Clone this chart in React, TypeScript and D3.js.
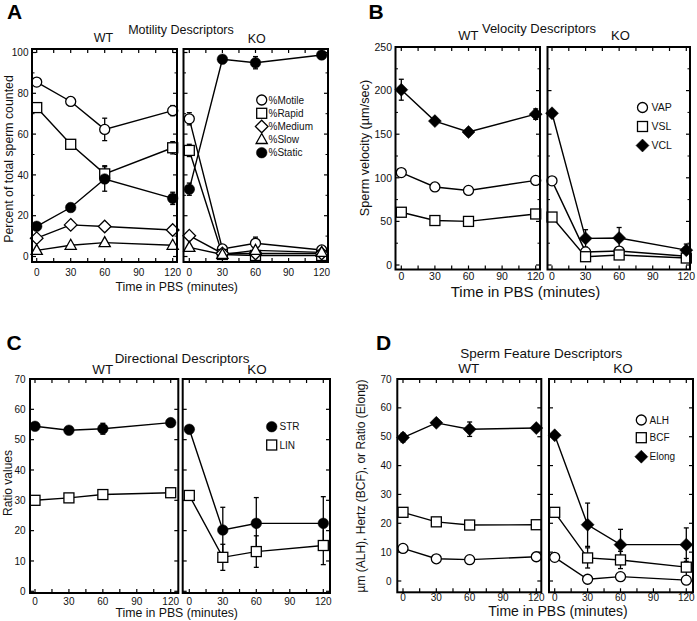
import React from "react";
import * as d3 from "d3";

const TIMES = [0, 30, 60, 120];
const X_TICK_LABELS = [0, 30, 60, 90, 120];
const X_TICK_MARKS = [0, 15, 30, 45, 60, 75, 90, 105, 120];

// Panel A: Motility Descriptors (percent)
const A_WT_MOTILE = [85.5, 76, 62.3, 71.5];
const A_WT_MOTILE_ERR = [1, 2, 5.5, 2.5];
const A_WT_RAPID = [73, 55, 40.5, 53.3];
const A_WT_RAPID_ERR = [2, 2, 4, 3];
const A_WT_MEDIUM = [9, 15.5, 14.7, 13];
const A_WT_MEDIUM_ERR = [1, 0.8, 0.8, 0.8];
const A_WT_SLOW = [3, 5.5, 6.8, 5.5];
const A_WT_SLOW_ERR = [0.5, 0.5, 0.5, 0.5];
const A_WT_STATIC = [14.8, 24, 38, 28.5];
const A_WT_STATIC_ERR = [1, 2, 6, 3];
const A_KO_MOTILE = [67.5, 3.7, 6.5, 3.2];
const A_KO_MOTILE_ERR = [3, 1, 3, 1];
const A_KO_RAPID = [52, 1, 0.5, 0.5];
const A_KO_RAPID_ERR = [3, 0.5, 0.5, 0.5];
const A_KO_MEDIUM = [10.2, 1.5, 1.5, 1.5];
const A_KO_MEDIUM_ERR = [1, 0.5, 0.5, 0.5];
const A_KO_SLOW = [4.5, 1, 3, 2];
const A_KO_SLOW_ERR = [0.5, 0.5, 0.5, 0.5];
const A_KO_STATIC = [33, 96.7, 95, 98.8];
const A_KO_STATIC_ERR = [3, 1, 3, 1];
const A_Y_TICKS = [0, 20, 40, 60, 80, 100];
const A_Y_MINOR = [10, 30, 50, 70, 90];

// Panel B: Velocity Descriptors (µm/sec)
const B_WT_VAP = [106, 89.5, 85.5, 97];
const B_WT_VAP_ERR = [2, 1, 1, 1.5];
const B_WT_VSL = [60.5, 51, 50, 58.5];
const B_WT_VSL_ERR = [1.5, 1, 1, 1.5];
const B_WT_VCL = [201, 165, 152.5, 173];
const B_WT_VCL_ERR = [12, 3, 4, 6];
const B_KO_VAP = [96.5, 15, 16, 10];
const B_KO_VAP_ERR = [2, 3, 3, 2];
const B_KO_VSL = [55, 9.5, 11.5, 8];
const B_KO_VSL_ERR = [2, 2, 3, 2];
const B_KO_VCL = [174, 30.5, 31, 17];
const B_KO_VCL_ERR = [3, 10, 12, 7];
const B_Y_TICKS = [0, 50, 100, 150, 200, 250];
const B_Y_MINOR = [25, 75, 125, 175, 225];

// Panel C: Directional Descriptors (ratio)
const C_WT_STR = [54.4, 53.1, 53.6, 55.6];
const C_WT_STR_ERR = [1, 0.8, 1.8, 0.8];
const C_WT_LIN = [30, 30.8, 31.9, 32.5];
const C_WT_LIN_ERR = [0.8, 0.8, 1.2, 0.8];
const C_KO_STR = [53.4, 20.2, 22.4, 22.4];
const C_KO_STR_ERR = [0.8, 7.5, 8.5, 8.8];
const C_KO_LIN = [31.6, 11.2, 13.1, 15.1];
const C_KO_LIN_ERR = [0.8, 4.3, 5.2, 6.3];
const C_Y_TICKS = [0, 10, 20, 30, 40, 50, 60, 70];

// Panel D: Sperm Feature Descriptors
const D_WT_ALH = [11.3, 7.7, 7.4, 8.4];
const D_WT_ALH_ERR = [1.2, 0.5, 0.5, 0.5];
const D_WT_BCF = [23.8, 20.5, 19.4, 19.5];
const D_WT_BCF_ERR = [0.8, 0.8, 0.5, 0.8];
const D_WT_ELONG = [49.7, 54.8, 52.6, 53];
const D_WT_ELONG_ERR = [1.5, 0.8, 2.5, 0.8];
const D_KO_ALH = [8.2, 0.6, 1.5, 0.3];
const D_KO_ALH_ERR = [0.5, 0.5, 0.5, 0.5];
const D_KO_BCF = [23.8, 8, 7.3, 4.8];
const D_KO_BCF_ERR = [0.8, 3.5, 3, 3];
const D_KO_ELONG = [50.5, 19.5, 12.6, 12.6];
const D_KO_ELONG_ERR = [0.8, 7.5, 5.3, 5.8];
const D_Y_TICKS = [0, 10, 20, 30, 40, 50, 60, 70];

type MarkerType = "circle" | "dot" | "square" | "diamond" | "fdiamond" | "triangle";

interface Series {
  label: string;
  marker: MarkerType;
  values: number[];
  errors: number[];
}

interface Sub {
  frame: [number, number];
  xRange: [number, number];
  series: Series[];
}

interface PanelCfg {
  letter: string;
  letterPos: [number, number];
  title: string;
  titlePos: [number, number];
  titleSize: number;
  wtPos: [number, number];
  koPos: [number, number];
  frameY: [number, number];
  yDomain: [number, number];
  yRange: [number, number];
  yTicks: number[];
  yMinor: number[];
  yLabelRight: number;
  tickSize: number;
  xLabelY: number;
  xTitlePos: [number, number];
  xTitleSize: number;
  yTitle: string;
  yTitlePos: [number, number];
  yTitleSize: number;
  wt: Sub;
  ko: Sub;
  legend: { markerX: number; textX: number; ys: number[]; size: number; items: Series[] };
}

const FONT = "'Liberation Sans', Arial, Helvetica, sans-serif";
const INK = "#111";

function Marker({ type, x, y }: { type: MarkerType; x: number; y: number }) {
  const sw = 1.3;
  switch (type) {
    case "circle":
      return <circle cx={x} cy={y} r={5} fill="#fff" stroke="#000" strokeWidth={sw} />;
    case "dot":
      return <circle cx={x} cy={y} r={5.3} fill="#000" stroke="#000" strokeWidth={0.5} />;
    case "square":
      return <rect x={x - 5} y={y - 5} width={10} height={10} fill="#fff" stroke="#000" strokeWidth={sw} />;
    case "diamond":
      return (
        <path d={`M${x},${y - 6.3}L${x + 6.3},${y}L${x},${y + 6.3}L${x - 6.3},${y}Z`} fill="#fff" stroke="#000" strokeWidth={sw} />
      );
    case "fdiamond":
      return (
        <path d={`M${x},${y - 6.5}L${x + 6.5},${y}L${x},${y + 6.5}L${x - 6.5},${y}Z`} fill="#000" stroke="#000" strokeWidth={0.5} />
      );
    case "triangle":
      return (
        <path d={`M${x},${y - 6}L${x + 5.6},${y + 4}L${x - 5.6},${y + 4}Z`} fill="#fff" stroke="#000" strokeWidth={sw} />
      );
  }
  return null;
}

function SubPlot({ sub, cfg, showYLabels }: { sub: Sub; cfg: PanelCfg; showYLabels: boolean }) {
  const x = d3.scaleLinear().domain([0, 120]).range(sub.xRange);
  const y = d3.scaleLinear().domain(cfg.yDomain).range(cfg.yRange);
  const [x0, x1] = sub.frame;
  const [top, bottom] = cfg.frameY;
  const line = d3
    .line<[number, number]>()
    .x((d) => x(d[0]))
    .y((d) => y(d[1]));
  const majLen = 4;
  const minLen = 2.5;
  return (
    <g>
      {/* y ticks */}
      {cfg.yTicks.map((t) => (
        <g key={"yt" + t}>
          <line x1={x0} x2={x0 + majLen} y1={y(t)} y2={y(t)} stroke="#000" strokeWidth={1.2} />
          <line x1={x1} x2={x1 - majLen} y1={y(t)} y2={y(t)} stroke="#000" strokeWidth={1.2} />
          {showYLabels && (
            <text x={cfg.yLabelRight} y={y(t) + cfg.tickSize * 0.36} textAnchor="end" fontSize={cfg.tickSize} fill={INK}>
              {t}
            </text>
          )}
        </g>
      ))}
      {cfg.yMinor.map((t) => (
        <g key={"ym" + t}>
          <line x1={x0} x2={x0 + minLen} y1={y(t)} y2={y(t)} stroke="#000" strokeWidth={1} />
          <line x1={x1} x2={x1 - minLen} y1={y(t)} y2={y(t)} stroke="#000" strokeWidth={1} />
        </g>
      ))}
      {/* x ticks */}
      {X_TICK_MARKS.map((t) => (
        <g key={"xt" + t}>
          <line x1={x(t)} x2={x(t)} y1={bottom} y2={bottom - majLen} stroke="#000" strokeWidth={1.2} />
          <line x1={x(t)} x2={x(t)} y1={top} y2={top + majLen} stroke="#000" strokeWidth={1.2} />
        </g>
      ))}
      {X_TICK_LABELS.map((t) => (
        <text key={"xl" + t} x={x(t)} y={cfg.xLabelY} textAnchor="middle" fontSize={cfg.tickSize} fill={INK}>
          {t}
        </text>
      ))}
      {/* lines */}
      {sub.series.map((s) => (
        <path
          key={"l" + s.label}
          d={line(TIMES.map((t, i) => [t, s.values[i]] as [number, number])) || ""}
          fill="none"
          stroke="#000"
          strokeWidth={1.4}
        />
      ))}
      {/* error bars */}
      {sub.series.map((s) =>
        TIMES.map((t, i) => {
          const cx = x(t);
          const yt = y(s.values[i] + s.errors[i]);
          const yb = y(s.values[i] - s.errors[i]);
          return (
            <g key={"e" + s.label + t}>
              <line x1={cx} x2={cx} y1={yt} y2={yb} stroke="#000" strokeWidth={1.3} />
              <line x1={cx - 2.5} x2={cx + 2.5} y1={yt} y2={yt} stroke="#000" strokeWidth={1.3} />
              <line x1={cx - 2.5} x2={cx + 2.5} y1={yb} y2={yb} stroke="#000" strokeWidth={1.3} />
            </g>
          );
        })
      )}
      {/* markers */}
      {sub.series.map((s) =>
        TIMES.map((t, i) => <Marker key={"m" + s.label + t} type={s.marker} x={x(t)} y={y(s.values[i])} />)
      )}
      <rect x={x0} y={top} width={x1 - x0} height={bottom - top} fill="none" stroke="#000" strokeWidth={2} />
    </g>
  );
}

function Panel({ cfg }: { cfg: PanelCfg }) {
  return (
    <g fontFamily={FONT}>
      <text x={cfg.letterPos[0]} y={cfg.letterPos[1]} fontSize={21} fontWeight="bold" fill="#000">
        {cfg.letter}
      </text>
      <text x={cfg.titlePos[0]} y={cfg.titlePos[1]} textAnchor="middle" fontSize={cfg.titleSize} fill={INK}>
        {cfg.title}
      </text>
      <text x={cfg.wtPos[0]} y={cfg.wtPos[1]} textAnchor="middle" fontSize={cfg.titleSize} fill={INK}>
        WT
      </text>
      <text x={cfg.koPos[0]} y={cfg.koPos[1]} textAnchor="middle" fontSize={cfg.titleSize} fill={INK}>
        KO
      </text>
      <SubPlot sub={cfg.wt} cfg={cfg} showYLabels={true} />
      <SubPlot sub={cfg.ko} cfg={cfg} showYLabels={false} />
      <text x={cfg.xTitlePos[0]} y={cfg.xTitlePos[1]} textAnchor="middle" fontSize={cfg.xTitleSize} fill={INK}>
        Time in PBS (minutes)
      </text>
      <text
        transform={`translate(${cfg.yTitlePos[0]},${cfg.yTitlePos[1]}) rotate(-90)`}
        textAnchor="middle"
        fontSize={cfg.yTitleSize}
        fill={INK}
      >
        {cfg.yTitle}
      </text>
      {cfg.legend.items.map((s, i) => (
        <g key={"lg" + s.label}>
          <Marker type={s.marker} x={cfg.legend.markerX} y={cfg.legend.ys[i]} />
          <text x={cfg.legend.textX} y={cfg.legend.ys[i] + cfg.legend.size * 0.36} fontSize={cfg.legend.size} fill={INK}>
            {s.label}
          </text>
        </g>
      ))}
    </g>
  );
}

function mk(label: string, marker: MarkerType, values: number[], errors: number[]): Series {
  return { label, marker, values, errors };
}

const aWT = [
  mk("%Motile", "circle", A_WT_MOTILE, A_WT_MOTILE_ERR),
  mk("%Rapid", "square", A_WT_RAPID, A_WT_RAPID_ERR),
  mk("%Medium", "diamond", A_WT_MEDIUM, A_WT_MEDIUM_ERR),
  mk("%Slow", "triangle", A_WT_SLOW, A_WT_SLOW_ERR),
  mk("%Static", "dot", A_WT_STATIC, A_WT_STATIC_ERR),
];
const aKO = [
  mk("%Motile", "circle", A_KO_MOTILE, A_KO_MOTILE_ERR),
  mk("%Rapid", "square", A_KO_RAPID, A_KO_RAPID_ERR),
  mk("%Medium", "diamond", A_KO_MEDIUM, A_KO_MEDIUM_ERR),
  mk("%Slow", "triangle", A_KO_SLOW, A_KO_SLOW_ERR),
  mk("%Static", "dot", A_KO_STATIC, A_KO_STATIC_ERR),
];
const bWT = [
  mk("VAP", "circle", B_WT_VAP, B_WT_VAP_ERR),
  mk("VSL", "square", B_WT_VSL, B_WT_VSL_ERR),
  mk("VCL", "fdiamond", B_WT_VCL, B_WT_VCL_ERR),
];
const bKO = [
  mk("VAP", "circle", B_KO_VAP, B_KO_VAP_ERR),
  mk("VSL", "square", B_KO_VSL, B_KO_VSL_ERR),
  mk("VCL", "fdiamond", B_KO_VCL, B_KO_VCL_ERR),
];
const cWT = [mk("STR", "dot", C_WT_STR, C_WT_STR_ERR), mk("LIN", "square", C_WT_LIN, C_WT_LIN_ERR)];
const cKO = [mk("STR", "dot", C_KO_STR, C_KO_STR_ERR), mk("LIN", "square", C_KO_LIN, C_KO_LIN_ERR)];
const dWT = [
  mk("ALH", "circle", D_WT_ALH, D_WT_ALH_ERR),
  mk("BCF", "square", D_WT_BCF, D_WT_BCF_ERR),
  mk("Elong", "fdiamond", D_WT_ELONG, D_WT_ELONG_ERR),
];
const dKO = [
  mk("ALH", "circle", D_KO_ALH, D_KO_ALH_ERR),
  mk("BCF", "square", D_KO_BCF, D_KO_BCF_ERR),
  mk("Elong", "fdiamond", D_KO_ELONG, D_KO_ELONG_ERR),
];

const PANEL_A: PanelCfg = {
  letter: "A",
  letterPos: [7, 19],
  title: "Motility Descriptors",
  titlePos: [181, 33.5],
  titleSize: 12.5,
  wtPos: [103.5, 42],
  koPos: [256.7, 43],
  frameY: [49, 262],
  yDomain: [0, 100],
  yRange: [256.5, 52.5],
  yTicks: A_Y_TICKS,
  yMinor: A_Y_MINOR,
  yLabelRight: 28.5,
  tickSize: 10,
  xLabelY: 276,
  xTitlePos: [176.7, 291],
  xTitleSize: 12.3,
  yTitle: "Percent of total sperm counted",
  yTitlePos: [12.5, 159],
  yTitleSize: 12.3,
  wt: { frame: [32, 177], xRange: [36.7, 172.7], series: aWT },
  ko: { frame: [183.5, 328], xRange: [189.3, 321.7], series: aKO },
  legend: { markerX: 261.7, textX: 268.5, ys: [100, 113.3, 126.5, 139.5, 152.7], size: 10, items: aKO },
};

const PANEL_B: PanelCfg = {
  letter: "B",
  letterPos: [368.5, 19],
  title: "Velocity Descriptors",
  titlePos: [539, 33],
  titleSize: 13,
  wtPos: [468.3, 40],
  koPos: [620.5, 40],
  frameY: [47, 269.5],
  yDomain: [0, 250],
  yRange: [265, 47],
  yTicks: B_Y_TICKS,
  yMinor: B_Y_MINOR,
  yLabelRight: 392,
  tickSize: 10.5,
  xLabelY: 280,
  xTitlePos: [525.5, 297],
  xTitleSize: 15,
  yTitle: "Sperm velocity (µm/sec)",
  yTitlePos: [369, 148],
  yTitleSize: 12.7,
  wt: { frame: [395.5, 540], xRange: [401.3, 535.7], series: bWT },
  ko: { frame: [547.5, 690], xRange: [552, 686.3], series: bKO },
  legend: { markerX: 642.5, textX: 651.5, ys: [107.5, 126.5, 145.5], size: 10.5, items: bKO },
};

const PANEL_C: PanelCfg = {
  letter: "C",
  letterPos: [6.5, 350],
  title: "Directional Descriptors",
  titlePos: [182, 362.5],
  titleSize: 13.4,
  wtPos: [102.7, 374],
  koPos: [257, 374],
  frameY: [379, 593],
  yDomain: [0, 70],
  yRange: [591.3, 379],
  yTicks: C_Y_TICKS,
  yMinor: [],
  yLabelRight: 25.5,
  tickSize: 10,
  xLabelY: 605,
  xTitlePos: [176.7, 617],
  xTitleSize: 12.3,
  yTitle: "Ratio values",
  yTitlePos: [12, 483],
  yTitleSize: 12,
  wt: { frame: [30, 178.3], xRange: [35, 170.7], series: cWT },
  ko: { frame: [182.7, 330], xRange: [189.3, 323.3], series: cKO },
  legend: { markerX: 271.7, textX: 279.5, ys: [426.7, 445], size: 10, items: cKO },
};

const PANEL_D: PanelCfg = {
  letter: "D",
  letterPos: [376, 350],
  title: "Sperm Feature Descriptors",
  titlePos: [541.3, 358],
  titleSize: 13.5,
  wtPos: [468.8, 372.5],
  koPos: [623, 372.5],
  frameY: [379, 592.3],
  yDomain: [0, 70],
  yRange: [581, 379],
  yTicks: D_Y_TICKS,
  yMinor: [],
  yLabelRight: 391.5,
  tickSize: 10,
  xLabelY: 601,
  xTitlePos: [558, 615.5],
  xTitleSize: 14,
  yTitle: "µm (ALH), Hertz (BCF), or Ratio (Elong)",
  yTitlePos: [365, 486],
  yTitleSize: 12,
  wt: { frame: [397.3, 541.3], xRange: [403, 536.3], series: dWT },
  ko: { frame: [549, 693], xRange: [554.7, 686.3], series: dKO },
  legend: { markerX: 641.3, textX: 649.5, ys: [420, 437.7, 456.7], size: 10, items: dKO },
};

export default function App() {
  return (
    <svg
      width={697}
      height={621}
      viewBox="0 0 697 621"
      style={{ position: "absolute", left: 0, top: 0, background: "#fff" }}
    >
      <rect x={0} y={0} width={697} height={621} fill="#fff" />
      <Panel cfg={PANEL_A} />
      <Panel cfg={PANEL_B} />
      <Panel cfg={PANEL_C} />
      <Panel cfg={PANEL_D} />
    </svg>
  );
}
